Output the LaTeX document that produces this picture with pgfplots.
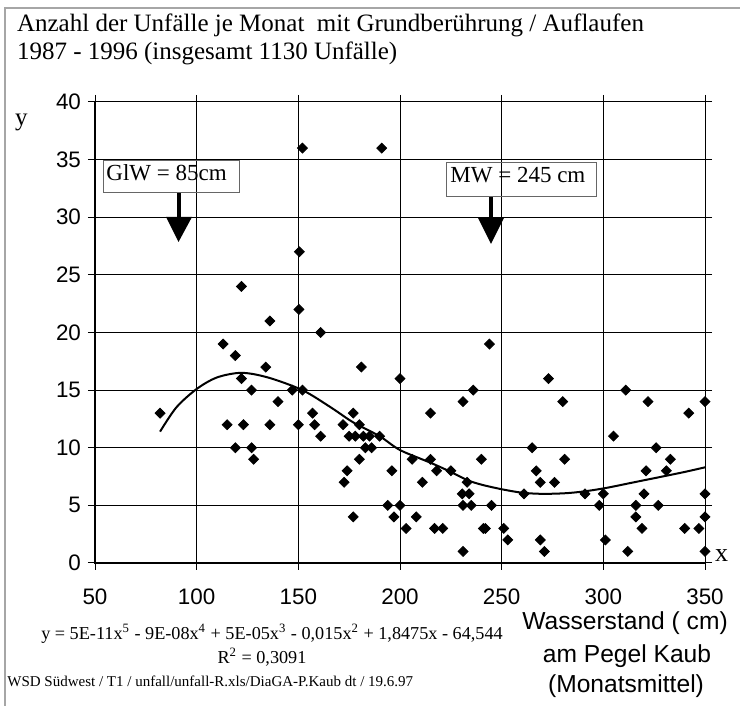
\documentclass[border=0pt]{standalone}
\usepackage{fontspec}
\setmainfont{Liberation Serif}
\newfontfamily\arial{Liberation Sans}
\usepackage{pgfplots}
\pgfplotsset{compat=1.18}

% monthly accidents vs. water level
\pgfplotstableread{
x y
82 13
113 19
119 18
122 16
127 15
134 17
140 14
147 15
152 15
115 12
123 12
136 12
150 12
119 10
127 10
128 9
157 13
158 12
161 11
161 20
172 12
152 36
150.5 27
150.3 22
122 24
136 21
191 36
181 17
244 19
200 16
273 16
236 15
311 15
231 14
280 14
322 14
177 13
215 13
180 12
175 11
178 11
182 11
185 11
190 11
305 11
183 10
186 10
265 10
326 10
180 9
206 9
215 9
240 9
281 9
174 8
196 8
218 8
225 8
267 8
321 8
172.5 7
211 7
233 7
269 7
276 7
230.6 6
234 6
261 6
291 6
300 6
320 6
194 5
200 5
231 5
235 5
245 5
298 5
316 5
327 5
177 4
197 4
208 4
316 4
203 3
217 3
221 3
241 3
242 3
251 3
319 3
253 2
269 2
301 2
231 1
271 1
312 1
342 13
350 14
333 9
331 8
350 6
350 4
340 3
347 3
350 1
}\points

\begin{document}
\begin{tikzpicture}[x=0.5pt,y=0.5pt]
\useasboundingbox (0,0) rectangle (740,706);
\draw[gray!70, line width=0.6pt] (740,698) -- (5,698) -- (5,0);

\begin{axis}[
    at={(47.5pt,71.5pt)}, anchor=south west,
    scale only axis,
    width=305pt, height=230.5pt,
    xmin=50, xmax=350, ymin=0, ymax=40,
    xtick={50,100,...,350},
    ytick={0,5,...,40},
    grid=major,
    grid style={black, line width=0.5pt},
    axis line style={line width=0.5pt},
    tick align=outside,
    major tick length=3.5pt,
    tick style={black, line width=0.5pt},
    ticklabel style={font=\arial\fontsize{11.2}{13}\selectfont},
    xticklabel style={yshift=-6pt},
    /pgf/number format/assume math mode=true,
    clip=false,
]
\addplot[only marks, mark=square*, mark size=1.75pt,
    mark options={rotate=45, fill=black, draw=black}] table[x=x, y=y] {\points};

% polynomial trendline
\addplot[smooth, line width=1pt, black, no marks] coordinates {
(82,11.4) (90,13.5) (100,15.1) (110,16.1) (122,16.5) (135,16.1)
(152,15.0) (166,13.5) (177,12.2) (190,11.0) (200,9.8) (215,8.7)
(225,7.9) (233,7.2) (240,6.8) (250,6.4) (260,6.1) (270,6.0)
(281,6.05) (290,6.2) (301,6.5) (315,7.0) (329,7.5) (340,7.9) (350,8.3)
};
\draw[line width=1pt] (axis cs:50,40) -- (axis cs:50,0) -- (axis cs:350,0);
\end{axis}

% title
\node[anchor=base west, font=\fontsize{12.5}{14}\selectfont] at (10,674)
  {Anzahl der Unfälle je Monat\ \ mit Grundberührung / Auflaufen};
\node[anchor=base west, font=\fontsize{12.5}{14}\selectfont] at (10,646)
  {1987 - 1996 (insgesamt 1130 Unfälle)};

% axis letters
\node[anchor=base west, font=\fontsize{12.5}{14}\selectfont] at (8,580) {y};
\node[anchor=base west, font=\fontsize{13}{14}\selectfont] at (708,144) {x};

% markers for low and mean water level
\draw[gray!80!black, line width=0.5pt] (103,545) rectangle (239,513);
\node[anchor=base west, inner sep=0pt, font=\fontsize{11.5}{13}\selectfont] at (106,525) {GlW = 85cm};
\fill (176.5,513) rectangle (180.5,489);
\fill (166,489) -- (192,489) -- (178.5,464) -- cycle;

\draw[gray!80!black, line width=0.5pt] (446,543) rectangle (596,509);
\node[anchor=base west, inner sep=0pt, font=\fontsize{11.5}{13}\selectfont] at (450,523) {MW = 245 cm};
\fill (489,509) rectangle (493,488);
\fill (478,488) -- (504,488) -- (491,462) -- cycle;

% trendline equation
\node[anchor=base, inner sep=0pt, font=\fontsize{9.1}{10}\selectfont] at (272,66)
  {y = 5E-11x\textsuperscript{5} - 9E-08x\textsuperscript{4} + 5E-05x\textsuperscript{3} - 0,015x\textsuperscript{2} + 1,8475x - 64,544};
\node[anchor=base, inner sep=0pt, font=\fontsize{9.1}{10}\selectfont] at (262,42)
  {R\textsuperscript{2} = 0,3091};

% x axis title
\node[anchor=base, inner sep=0pt, font=\arial\fontsize{12.3}{14}\selectfont] at (625,76) {Wasserstand ( cm)};
\node[anchor=base, inner sep=0pt, font=\arial\fontsize{12.3}{14}\selectfont] at (627,43) {am Pegel Kaub};
\node[anchor=base, inner sep=0pt, font=\arial\fontsize{12.3}{14}\selectfont] at (626,13) {(Monatsmittel)};

% footer
\node[anchor=base west, inner sep=0pt, font=\fontsize{7.5}{9}\selectfont] at (7,19)
  {WSD Südwest / T1 / unfall/unfall-R.xls/DiaGA-P.Kaub dt / 19.6.97};
\end{tikzpicture}
\end{document}
